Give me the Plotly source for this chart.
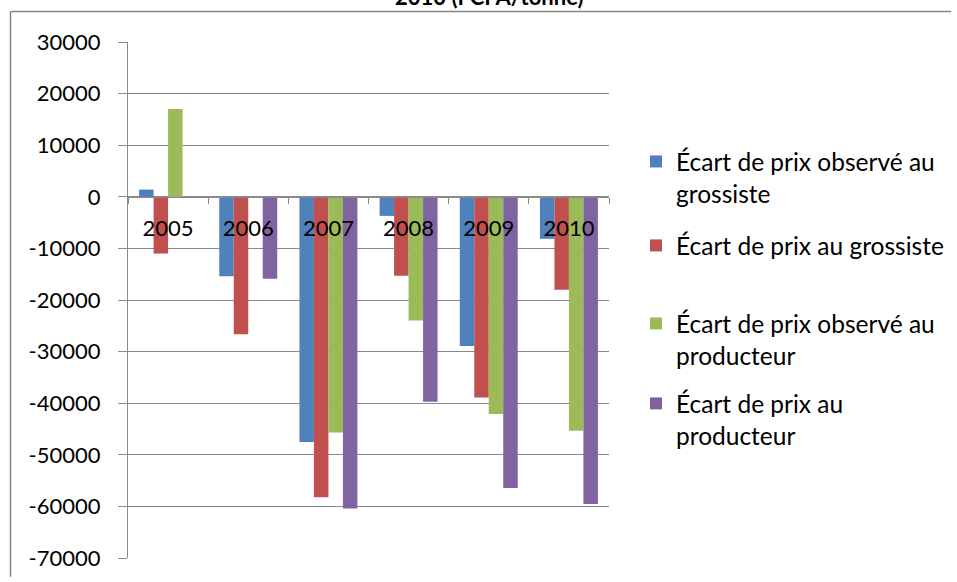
import plotly.graph_objects as go

# Years on the category axis
years = ["2005", "2006", "2007", "2008", "2009", "2010"]

# Price gaps (FCFA/tonne) per series
ecart_obs_grossiste = [1400, -15400, -47500, -3700, -28900, -8150]
ecart_grossiste = [-11000, -26650, -58250, -15300, -38900, -18000]
ecart_obs_producteur = [17000, 0, -45700, -23950, -42100, -45350]
ecart_producteur = [0, -15900, -60400, -39700, -56450, -59550]

series_names = [
    "Écart de prix observé au<br>grossiste",
    "Écart de prix au grossiste",
    "Écart de prix observé au<br>producteur",
    "Écart de prix au<br>producteur",
]
series_values = [ecart_obs_grossiste, ecart_grossiste, ecart_obs_producteur, ecart_producteur]
series_colors = ["#4F81BD", "#C0504D", "#9BBB59", "#8064A2"]

y_ticks = list(range(-70000, 30001, 10000))
y_min, y_max = -70000, 30000

FONT = "Lato"
GRID = "#8a8a8a"
FRAME = "#868686"

W, H = 957, 582
# paper area: inset a few pixels from the page on every side
PAD_L, PAD_T, PAD_R, PAD_B = 8, 9, 4, 4
paper_w = W - PAD_L - PAD_R
paper_h = H - PAD_T - PAD_B


def px_to_paper_x(px):
    return (px - PAD_L) / paper_w


def px_to_paper_y(py):
    return (H - PAD_B - py) / paper_h


# plot area in pixels
PX_L, PX_R, PX_T, PX_B = 128, 609, 42, 558
x_domain = [px_to_paper_x(PX_L), px_to_paper_x(PX_R)]
y_domain = [px_to_paper_y(PX_B), px_to_paper_y(PX_T)]

# vertical positions (px from top) of each legend entry
legend_tops = [139, 223, 301, 381]
legend_names = ["legend", "legend2", "legend3", "legend4"]

fig = go.Figure()
for name, vals, color, lg in zip(series_names, series_values, series_colors, legend_names):
    fig.add_trace(go.Bar(
        x=years, y=vals, name=name,
        marker=dict(color=color, line=dict(width=0)),
        legend=lg,
    ))

legend_common = dict(
    font=dict(family=FONT, size=24.5, color="#000000"),
    bgcolor="rgba(0,0,0,0)",
    xref="container", yref="container",
    xanchor="left", yanchor="top",
    valign="top",
    itemwidth=30,
)
layout_legends = {}
for lg, top in zip(legend_names, legend_tops):
    layout_legends[lg] = dict(legend_common, x=636 / W, y=1 - top / H)

# x axis drawn along the zero line
zero_frac = (0 - y_min) / (y_max - y_min)
zero_pos = y_domain[0] + zero_frac * (y_domain[1] - y_domain[0])

fig.update_layout(
    width=W, height=H,
    margin=dict(l=PAD_L, r=PAD_R, t=PAD_T, b=PAD_B, pad=0, autoexpand=False),
    paper_bgcolor="white", plot_bgcolor="white",
    barmode="group", bargap=0.277, bargroupgap=0,
    showlegend=True,
    font=dict(family=FONT, size=22, color="#000000"),
    xaxis=dict(
        type="category",
        domain=x_domain,
        anchor="free", position=zero_pos,
        showline=True, linecolor=GRID, linewidth=1,
        ticks="outside", ticklen=6, tickcolor=GRID, tickwidth=1,
        tickson="boundaries",
        tickangle=0,
        showgrid=False, zeroline=False,
        tickfont=dict(family=FONT, size=22, color="#000000"),
        ticklabelstandoff=12,
    ),
    yaxis=dict(
        domain=y_domain,
        anchor="x",
        range=[y_min, y_max],
        tickvals=y_ticks,
        ticktext=[str(v) for v in y_ticks],
        showline=True, linecolor=GRID, linewidth=1,
        ticks="outside", ticklen=9, tickcolor=GRID, tickwidth=1,
        showgrid=True, gridcolor=GRID, gridwidth=1,
        zeroline=False,
        tickfont=dict(family=FONT, size=22, color="#000000"),
        ticklabelstandoff=13,
    ),
    **layout_legends,
)

# Chart frame: left and top edges, kept inside the paper area
frame_x = px_to_paper_x(10.5)
frame_y = px_to_paper_y(11.5)
fig.add_shape(
    type="line", xref="paper", yref="paper",
    x0=frame_x, x1=frame_x, y0=0.002, y1=frame_y,
    line=dict(color=FRAME, width=1.5), layer="above",
)
fig.add_shape(
    type="line", xref="paper", yref="paper",
    x0=frame_x, x1=0.998, y0=frame_y, y1=frame_y,
    line=dict(color=FRAME, width=1.5), layer="above",
)

# Title (second line)
fig.add_annotation(
    text="<b>2010 (FCFA/tonne)</b>",
    xref="paper", yref="paper",
    x=px_to_paper_x(489), y=px_to_paper_y(-4),
    xanchor="center", yanchor="middle",
    showarrow=False,
    font=dict(family=FONT, size=22, color="#000000"),
)

fig.write_html("out.html")
